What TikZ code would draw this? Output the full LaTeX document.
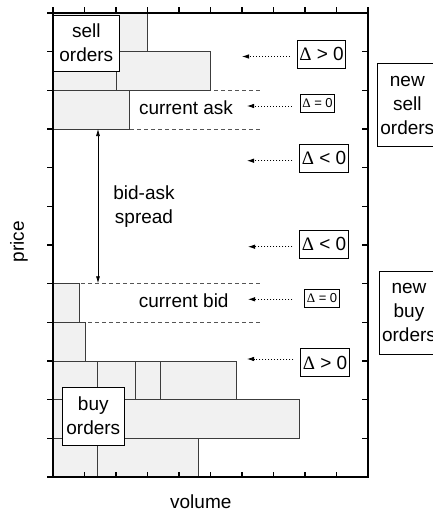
\documentclass[tikz,border=0pt]{standalone}
\usepackage{fontspec}
\setmainfont{Liberation Sans}
\newfontfamily\dfont{Liberation Serif}
\usetikzlibrary{arrows.meta}
\definecolor{barfill}{HTML}{F1F1F1}
\definecolor{baredge}{HTML}{3C3C3C}
\definecolor{dashc}{HTML}{555555}
\begin{document}
\begin{tikzpicture}[x=1pt,y=-1pt,
  lbl/.style={font=\fontsize{19}{24}\selectfont, inner sep=0pt},
  bigbox/.style={draw, line width=0.8pt, fill=white, font=\fontsize{19}{24}\selectfont, align=center, inner sep=0pt},
  dbox/.style={draw, line width=0.8pt, fill=white, font=\fontsize{19}{19}\selectfont, inner xsep=2pt, inner ysep=0pt, minimum height=28pt},
  sbox/.style={draw, line width=0.8pt, fill=white, font=\fontsize{13}{13}\selectfont, inner xsep=2pt, inner ysep=0pt, minimum height=18pt},
  bar/.style={fill=barfill, draw=baredge, line width=0.8pt},
  axis/.style={draw=black, line width=1.2pt},
  dashln/.style={draw=dashc, line width=0.8pt, dash pattern=on 4pt off 3pt},
  dotarr/.style={line width=0.8pt, dash pattern=on 1pt off 2pt, -{Latex[length=7pt,width=4.5pt]}},
  spreadarr/.style={line width=0.7pt, {Latex[length=7pt,width=4pt]}-{Latex[length=7pt,width=4pt]}}]
\useasboundingbox (0,0) rectangle (433,515);
\fill[white] (0,0) rectangle (433,515);

\begin{scope}[shift={(53,477)}, x=31.5pt, y=38.667pt]
  % dashed price levels
  \draw[dashln] (0,10) -- (6.63,10) (0,9) -- (6.63,9) (0,5) -- (6.63,5) (0,4) -- (6.63,4);
  % sell side
  \draw[bar] (0,11) rectangle (3,12);
  \draw[bar] (0,10) rectangle (2,11);
  \draw[bar] (2,10) rectangle (5,11);
  \draw[bar] (0,9) rectangle (2.41,10);
  % buy side
  \draw[bar] (0,4) rectangle (0.83,5);
  \draw[bar] (0,3) rectangle (1.02,4);
  \draw[bar] (0,2) rectangle (1.42,3);
  \draw[bar] (1.42,2) rectangle (2.62,3);
  \draw[bar] (2.62,2) rectangle (3.42,3);
  \draw[bar] (3.42,2) rectangle (5.82,3);
  \draw[bar] (0,1) rectangle (7.82,2);
  \draw[bar] (0,0) rectangle (1.42,1);
  \draw[bar] (1.42,0) rectangle (4.61,1);
  % frame and ticks
  \draw[axis] (0,0) rectangle (10,12);
  \foreach \i in {0,...,12} {
    \draw[axis] (0,\i) -- ++(-6pt,0);
    \draw[axis] (10,\i) -- ++(-6pt,0);
  }
  \foreach \i in {0,...,10} {
    \draw[axis] (\i,12) -- ++(0,6pt);
    \draw[axis] (\i,0) -- ++(0,5pt);
  }
\end{scope}

% labels in the plot
\node[bigbox, minimum width=66pt, minimum height=56pt] (sell) at (86.3,43) {sell\\orders};
\node[bigbox, minimum width=62pt, minimum height=58pt] (buy) at (93.3,416) {buy\\orders};
\node[lbl] (ask) at (186,108) {current ask};
\node[lbl] (bid) at (183.7,300.5) {current bid};
\node[lbl, align=center] (spread) at (144,207) {bid-ask\\spread};
\node[lbl, rotate=90] (price) at (19,241.7) {price};
\node[lbl] (vol) at (200.8,502) {volume};

% bid-ask spread arrow
\coordinate (sa) at (98,129);
\coordinate (sb) at (98,283.3);
\draw[spreadarr] (sa) -- (sb);

% delta boxes
\node[dbox] (d1) at (321.5,54) {{\dfont Δ} > 0};
\node[sbox] (d2) at (317.5,103) {{\dfont Δ} = 0};
\node[dbox] (d3) at (324,158.3) {{\dfont Δ} < 0};
\node[dbox] (d4) at (324,244) {{\dfont Δ} < 0};
\node[sbox] (d5) at (322,298) {{\dfont Δ} = 0};
\node[dbox] (d6) at (325,362.7) {{\dfont Δ} > 0};

\coordinate (a1) at (242,56.5);
\coordinate (a2) at (247,106);
\coordinate (a3) at (247,160.7);
\coordinate (a4) at (248,246.7);
\coordinate (a5) at (248,299.3);
\coordinate (a6) at (247,359);
\draw[dotarr] (a1 -| d1.west) ++(-7,0) -- (a1);
\draw[dotarr] (a2 -| d2.west) ++(-8,0) -- (a2);
\draw[dotarr] (a3 -| d3.west) ++(-7,0) -- (a3);
\draw[dotarr] (a4 -| d4.west) ++(-7,0) -- (a4);
\draw[dotarr] (a5 -| d5.west) ++(-12,0) -- (a5);
\draw[dotarr] (a6 -| d6.west) ++(-7,0) -- (a6);

% new orders boxes
\node[bigbox, minimum width=60pt, minimum height=83.4pt] (newsell) at (407.3,105) {new\\sell\\orders};
\node[bigbox, minimum width=60pt, minimum height=83.3pt] (newbuy) at (409,312.7) {new\\buy\\orders};
\end{tikzpicture}
\end{document}
